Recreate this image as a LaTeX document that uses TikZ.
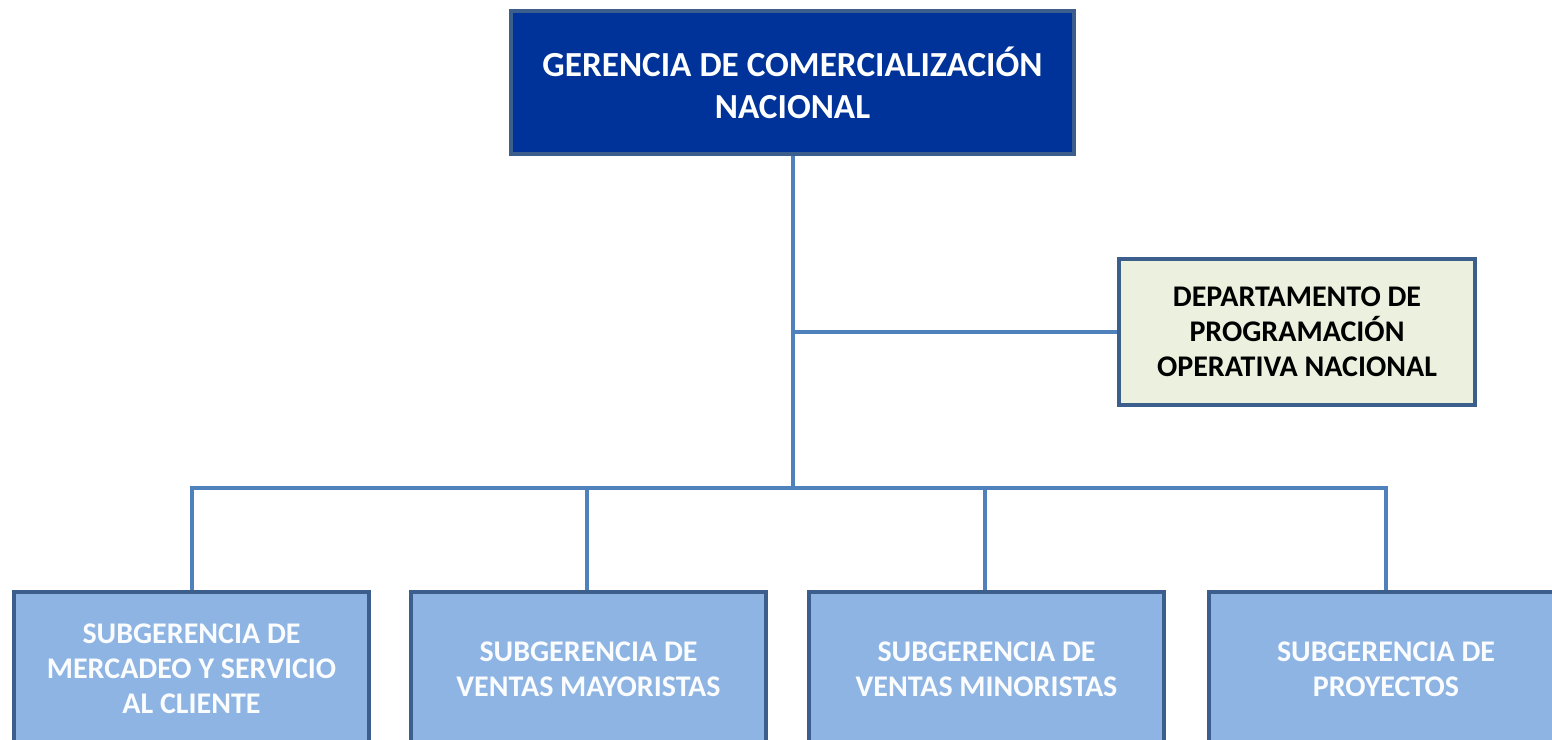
\documentclass[tikz,border=0pt]{standalone}
\usepackage{fontspec}
\setmainfont{Carlito}
\definecolor{topfill}{HTML}{003399}
\definecolor{boxborder}{HTML}{3B5E8C}
\definecolor{deptfill}{HTML}{EBF1DE}
\definecolor{subfill}{HTML}{8EB4E3}
\definecolor{linkcol}{HTML}{4F81BD}
\tikzset{
  orgbox/.style={draw=boxborder, line width=4pt, rectangle, align=center, font=\bfseries, inner sep=0pt},
  topbox/.style={orgbox, fill=topfill, text=white, minimum width=563pt, minimum height=143pt, font=\fontsize{35.2}{42}\selectfont\bfseries},
  deptbox/.style={orgbox, fill=deptfill, text=black, minimum width=356pt, minimum height=146pt, font=\fontsize{30}{35}\selectfont\bfseries},
  subbox/.style={orgbox, fill=subfill, text=white!96!subfill, minimum width=355pt, minimum height=154pt, font=\fontsize{30}{35}\selectfont\bfseries},
  link/.style={draw=linkcol, line width=4pt}
}
\begin{document}
\begin{tikzpicture}[x=1pt,y=-1pt]
\useasboundingbox (0,0) rectangle (1552,739);
\clip (0,0) rectangle (1552,739);
\node[topbox] (top) at (792.5,82.5) {GERENCIA DE COMERCIALIZACIÓN\\NACIONAL};
\node[deptbox] (dept) at (1297,332) {DEPARTAMENTO DE\\PROGRAMACIÓN\\OPERATIVA NACIONAL};
\node[subbox] (s1) at (191.5,669) {SUBGERENCIA DE\\MERCADEO Y SERVICIO\\AL CLIENTE};
\node[subbox] (s2) at (588.5,669) {SUBGERENCIA DE\\VENTAS MAYORISTAS};
\node[subbox] (s3) at (986.5,669) {SUBGERENCIA DE\\VENTAS MINORISTAS};
\node[subbox] (s4) at (1386,669) {SUBGERENCIA DE\\PROYECTOS};
\coordinate (bus) at (793,488);
\coordinate (tee) at (793,332);
\draw[link] (top.south -| bus) -- (bus);
\draw[link] (tee) -- (dept.west);
\draw[link] (s1.north -| 192,0) |- (bus);
\draw[link] (s4.north -| 1386,0) |- (bus);
\draw[link] (s2.north -| 587,0) -- (587,488);
\draw[link] (s3.north -| 985,0) -- (985,488);
\end{tikzpicture}
\end{document}
